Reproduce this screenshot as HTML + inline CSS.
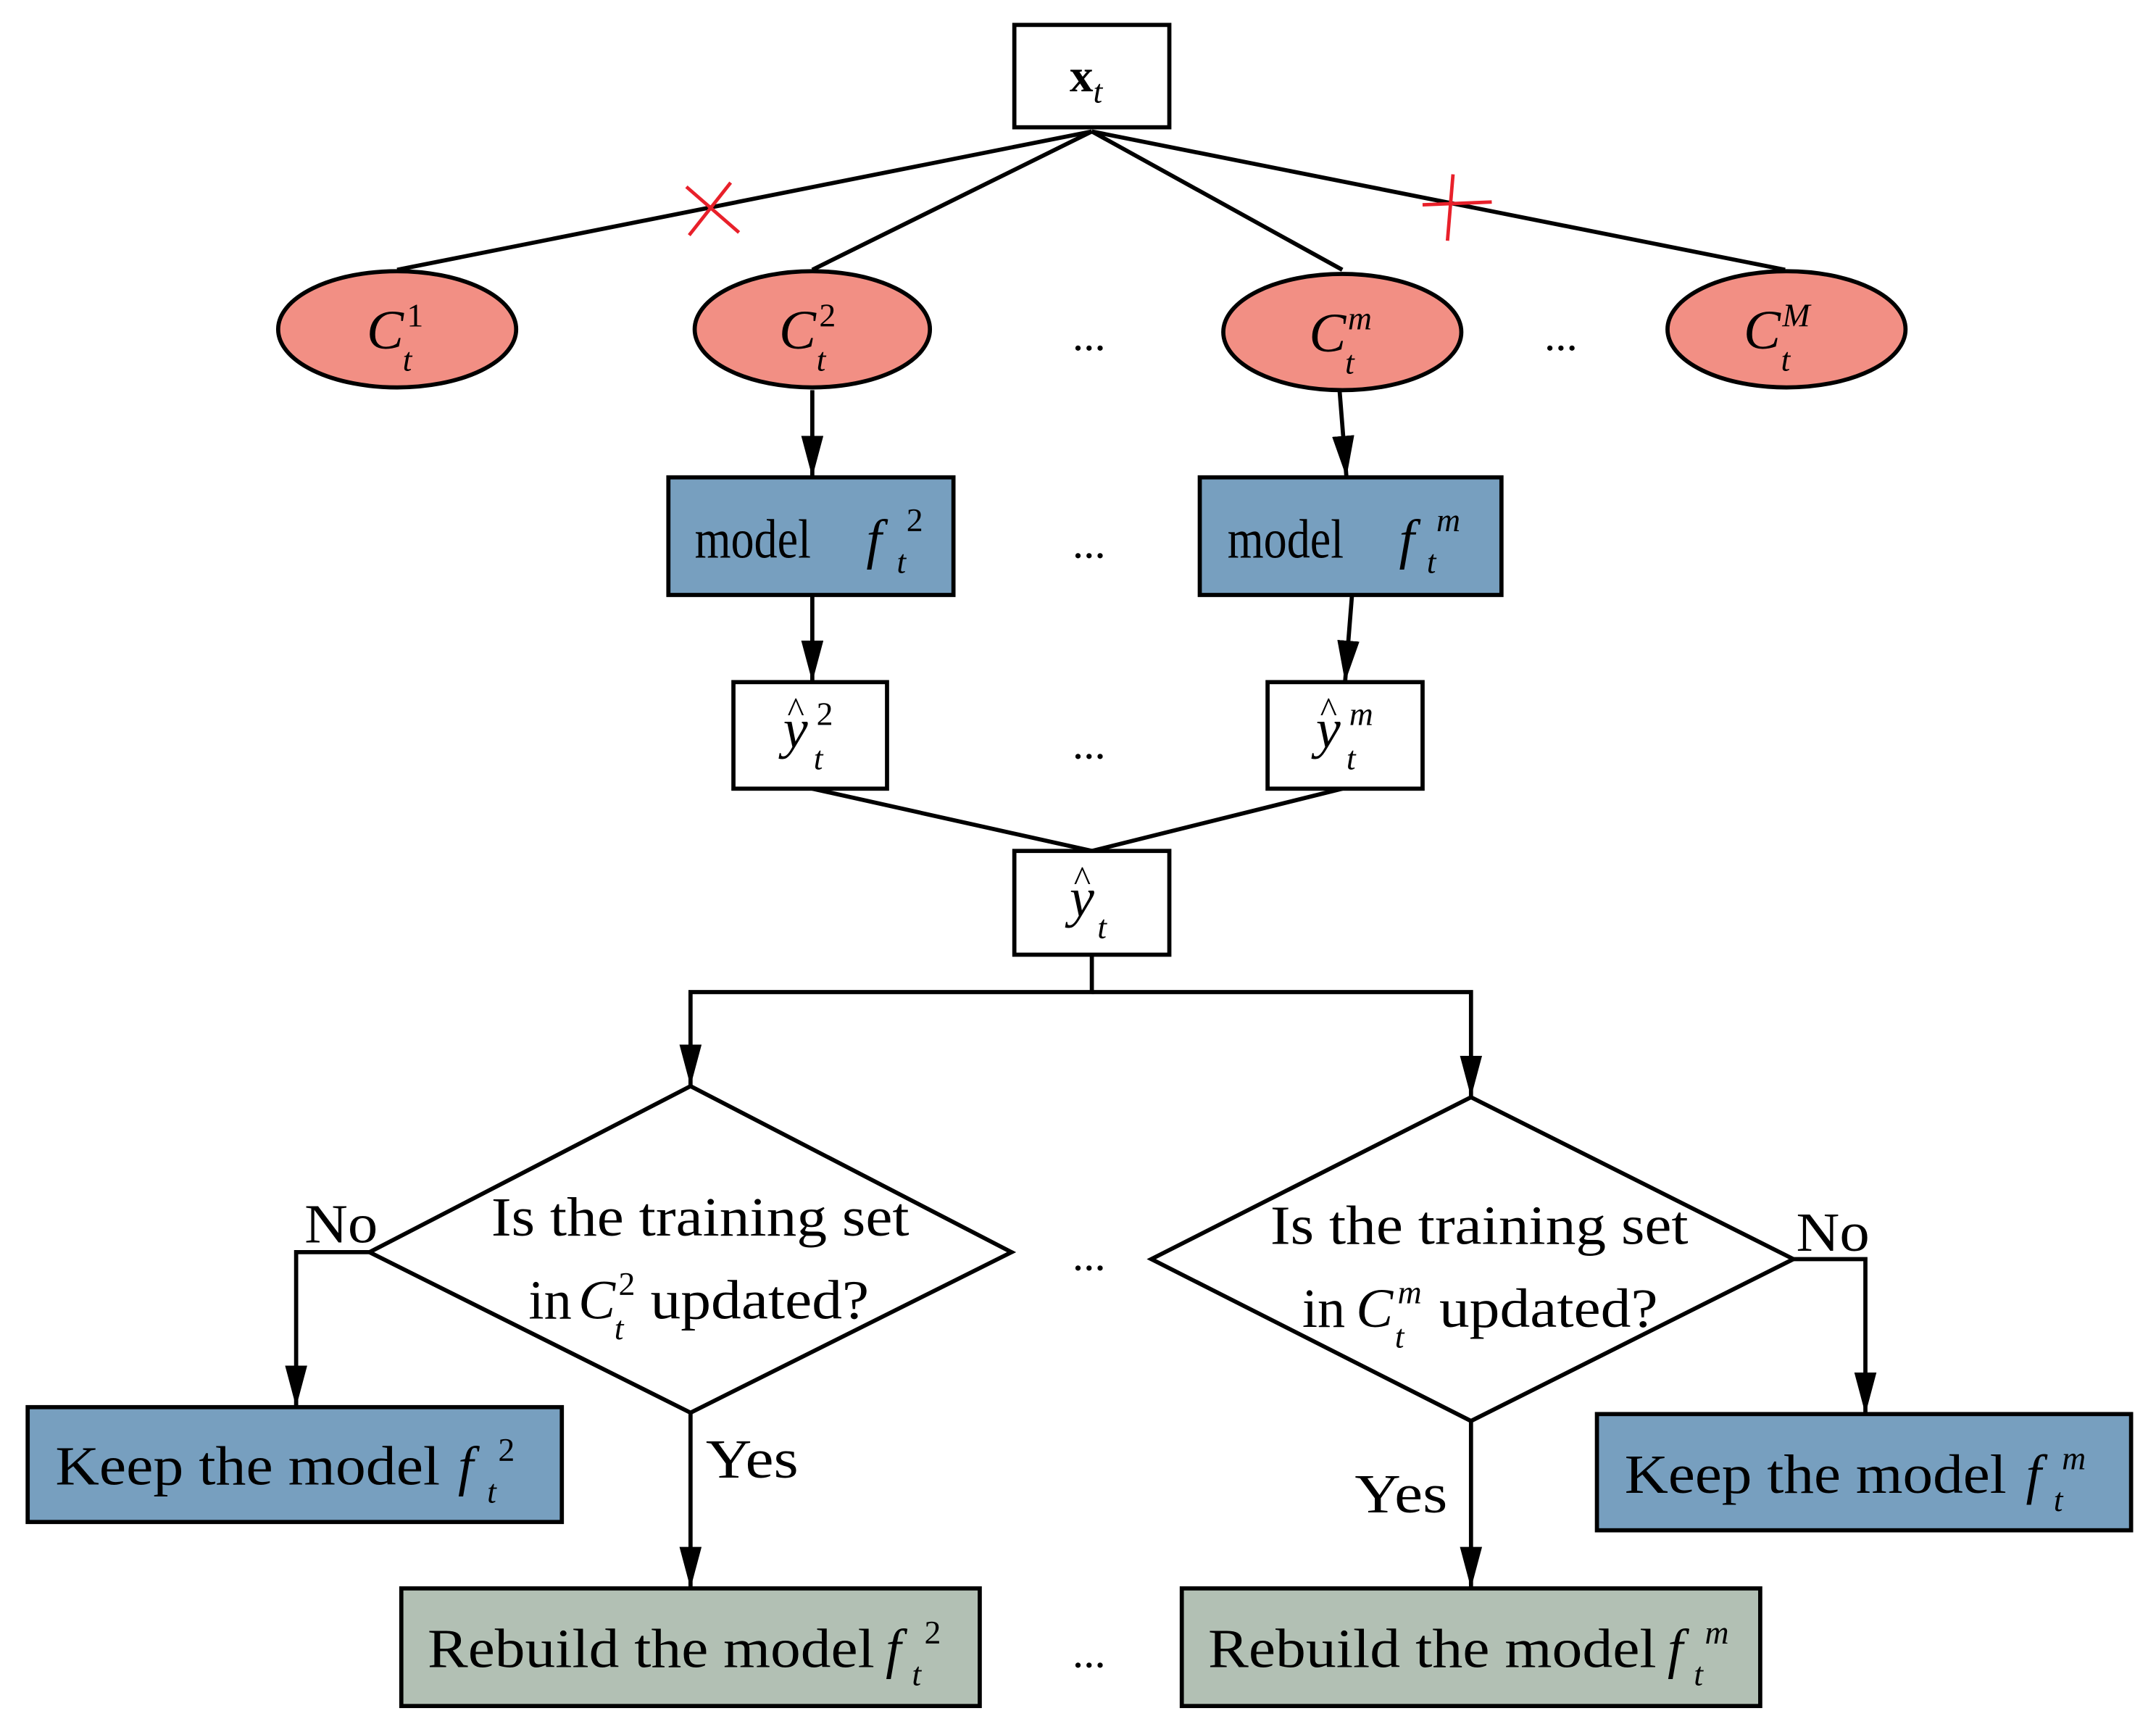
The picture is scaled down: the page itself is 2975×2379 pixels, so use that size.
<!DOCTYPE html>
<html><head><meta charset="utf-8"><style>html,body{margin:0;padding:0;background:#fff}svg{display:block}</style></head><body>
<svg width="2975" height="2379" viewBox="0 0 1558 1246" preserveAspectRatio="none" xmlns="http://www.w3.org/2000/svg" font-family="Liberation Serif, serif">
<defs>
<marker id="b" viewBox="0 0 30 16" refX="30" refY="8" markerWidth="30" markerHeight="16" orient="auto" markerUnits="userSpaceOnUse"><path d="M0,0 L30,8 L0,16 z" fill="#000"/></marker></defs>
<g stroke="#000" stroke-width="3" fill="none">
<line x1="789" y1="95" x2="287" y2="195"/><line x1="789" y1="95" x2="587" y2="195"/>
<line x1="789" y1="95" x2="970" y2="195"/><line x1="789" y1="95" x2="1290" y2="195"/>
<line x1="587" y1="282" x2="587" y2="345" marker-end="url(#b)"/>
<line x1="968" y1="282" x2="973" y2="345" marker-end="url(#b)"/>
<line x1="587" y1="430" x2="587" y2="493" marker-end="url(#b)"/>
<line x1="977" y1="430" x2="972" y2="493" marker-end="url(#b)"/>
<line x1="587" y1="570" x2="789" y2="615"/><line x1="970" y1="570" x2="789" y2="615"/>
<polyline points="789,690 789,717 499,717 499,785" marker-end="url(#b)"/>
<polyline points="789,717 1063,717 1063,793" marker-end="url(#b)"/>
<polyline points="267,905 214,905 214,1017" marker-end="url(#b)"/>
<polyline points="1296,910 1348,910 1348,1022" marker-end="url(#b)"/>
<line x1="499" y1="1021" x2="499" y2="1148" marker-end="url(#b)"/>
<line x1="1063" y1="1027" x2="1063" y2="1148" marker-end="url(#b)"/>
</g>
<g stroke="#e8202a" stroke-width="2.5"><line x1="496" y1="135" x2="534" y2="168"/><line x1="498" y1="170" x2="528" y2="132"/>
<line x1="1028" y1="148" x2="1078" y2="146"/><line x1="1050" y1="126" x2="1046" y2="174"/></g>
<g stroke="#000" stroke-width="3">
<rect x="733" y="18" width="112" height="74" fill="#fff"/>
<ellipse cx="287" cy="238" rx="86" ry="42" fill="#f28f84"/>
<ellipse cx="587" cy="238" rx="85" ry="42" fill="#f28f84"/>
<ellipse cx="970" cy="240" rx="86" ry="42" fill="#f28f84"/>
<ellipse cx="1291" cy="238" rx="86" ry="42" fill="#f28f84"/>
<rect x="483" y="345" width="206" height="85" fill="#779fbf"/>
<rect x="867" y="345" width="218" height="85" fill="#779fbf"/>
<rect x="530" y="493" width="111" height="77" fill="#fff"/>
<rect x="916" y="493" width="112" height="77" fill="#fff"/>
<rect x="733" y="615" width="112" height="75" fill="#fff"/>
<polygon points="499,785 731,905 499,1021 267,905" fill="#fff"/>
<polygon points="1063,793 1296,910 1063,1027 832,910" fill="#fff"/>
<rect x="20" y="1017" width="386" height="83" fill="#779fbf"/>
<rect x="1154" y="1022" width="386" height="84" fill="#779fbf"/>
<rect x="290" y="1148" width="418" height="85" fill="#b2c0b4"/>
<rect x="854" y="1148" width="418" height="85" fill="#b2c0b4"/>
</g>
<g font-size="40" fill="#000">
<text x="773" y="66" font-weight="bold" font-size="34">x<tspan font-style="italic" font-weight="normal" font-size="24" dy="8">t</tspan></text>
<g font-style="italic">
<text x="265" y="252">C</text><text x="294" y="236" font-size="24" font-style="normal">1</text><text x="291" y="268" font-size="24">t</text>
<text x="563" y="252">C</text><text x="592" y="236" font-size="24" font-style="normal">2</text><text x="590" y="268" font-size="24">t</text>
<text x="946" y="254">C</text><text x="974" y="238" font-size="24">m</text><text x="972" y="270" font-size="24">t</text>
<text x="1260" y="252">C</text><text x="1288" y="236" font-size="24">M</text><text x="1287" y="268" font-size="24">t</text>
</g>
<text x="502" y="403" textLength="84" lengthAdjust="spacingAndGlyphs">model</text><text x="626" y="403" font-style="italic">f</text><text x="655" y="384" font-size="24">2</text><text x="648" y="414" font-size="24" font-style="italic">t</text>
<text x="887" y="403" textLength="84" lengthAdjust="spacingAndGlyphs">model</text><text x="1011" y="403" font-style="italic">f</text><text x="1038" y="384" font-size="24" font-style="italic">m</text><text x="1031" y="414" font-size="24" font-style="italic">t</text>
<g font-style="italic"><text x="566" y="540">y</text><text x="569" y="522" font-style="normal" font-size="26">^</text><text x="590" y="524" font-size="24" font-style="normal">2</text><text x="588" y="556" font-size="24">t</text>
<text x="951" y="540">y</text><text x="954" y="522" font-style="normal" font-size="26">^</text><text x="975" y="524" font-size="24">m</text><text x="973" y="556" font-size="24">t</text>
<text x="773" y="662">y</text><text x="776" y="644" font-style="normal" font-size="26">^</text><text x="793" y="678" font-size="24">t</text></g>
<g font-size="32">
<text x="775" y="253">...</text><text x="1116" y="253">...</text><text x="775" y="403">...</text><text x="775" y="548">...</text><text x="775" y="918">...</text><text x="775" y="1205">...</text>
</g>
<text x="355" y="893" textLength="302" lengthAdjust="spacingAndGlyphs">Is the training set</text>
<text x="382" y="953">in</text><text x="418" y="953" font-style="italic">C</text><text x="447" y="936" font-size="24">2</text><text x="444" y="968" font-size="24" font-style="italic">t</text><text x="470" y="953" textLength="158" lengthAdjust="spacingAndGlyphs">updated?</text>
<text x="918" y="899" textLength="302" lengthAdjust="spacingAndGlyphs">Is the training set</text>
<text x="941" y="959">in</text><text x="980" y="959" font-style="italic">C</text><text x="1010" y="942" font-size="24" font-style="italic">m</text><text x="1008" y="974" font-size="24" font-style="italic">t</text><text x="1040" y="959" textLength="158" lengthAdjust="spacingAndGlyphs">updated?</text>
<text x="220" y="898" textLength="53" lengthAdjust="spacingAndGlyphs">No</text><text x="1298" y="904" textLength="53" lengthAdjust="spacingAndGlyphs">No</text>
<text x="510" y="1068" textLength="67" lengthAdjust="spacingAndGlyphs">Yes</text><text x="979" y="1093" textLength="67" lengthAdjust="spacingAndGlyphs">Yes</text>
<text x="40" y="1073" textLength="278" lengthAdjust="spacingAndGlyphs">Keep the model</text><text x="331" y="1073" font-style="italic">f</text><text x="360" y="1056" font-size="24">2</text><text x="352" y="1086" font-size="24" font-style="italic">t</text>
<text x="1174" y="1079" textLength="276" lengthAdjust="spacingAndGlyphs">Keep the model</text><text x="1464" y="1079" font-style="italic">f</text><text x="1490" y="1062" font-size="24" font-style="italic">m</text><text x="1484" y="1092" font-size="24" font-style="italic">t</text>
<text x="309" y="1205" textLength="323" lengthAdjust="spacingAndGlyphs">Rebuild the model</text><text x="640" y="1205" font-style="italic">f</text><text x="668" y="1188" font-size="24">2</text><text x="659" y="1218" font-size="24" font-style="italic">t</text>
<text x="873" y="1205" textLength="324" lengthAdjust="spacingAndGlyphs">Rebuild the model</text><text x="1205" y="1205" font-style="italic">f</text><text x="1232" y="1188" font-size="24" font-style="italic">m</text><text x="1224" y="1218" font-size="24" font-style="italic">t</text>
</g>
</svg>
</body></html>
